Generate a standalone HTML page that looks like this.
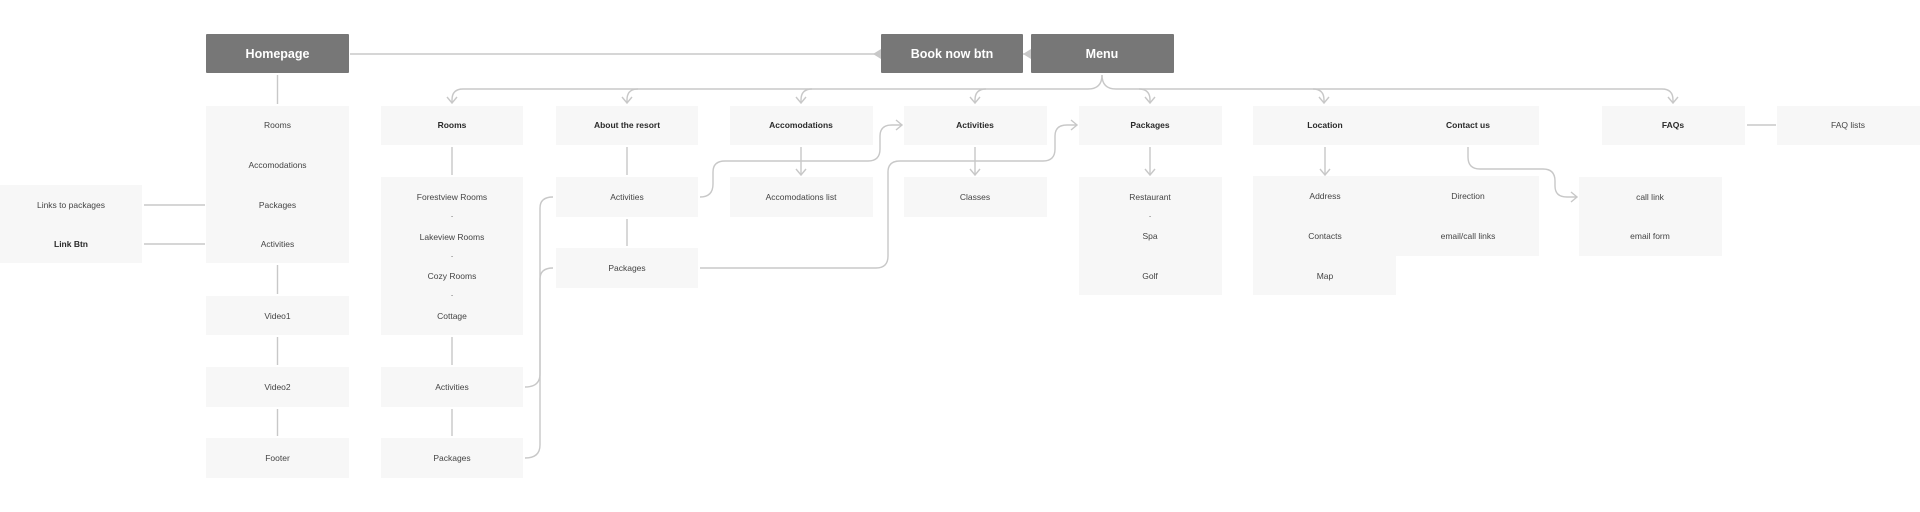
<!DOCTYPE html>
<html><head><meta charset="utf-8"><style>
html,body{margin:0;padding:0;background:#fff;}
svg{display:block}
text{font-family:"Liberation Sans",sans-serif;font-size:8.5px;fill:#444;text-anchor:middle;dominant-baseline:central}
.b{font-weight:bold;fill:#2a2a2a}
.t{font-weight:bold;fill:#fff;font-size:12.5px}
.l{fill:#f7f7f7}
.d{fill:#777}
path,line{stroke:#c8c8c8;stroke-width:1.4;fill:none}
.tri{fill:#c8c8c8;stroke:none}
</style></head><body>
<svg width="1920" height="512" viewBox="0 0 1920 512" xmlns="http://www.w3.org/2000/svg">
<defs>
<marker id="a" markerWidth="12" markerHeight="12" refX="10" refY="6" orient="auto" markerUnits="userSpaceOnUse">
<path d="M4 1 L10 6 L4 11" style="stroke:#c8c8c8;stroke-width:1.4;fill:none"/>
</marker>
</defs>
<!-- dark boxes -->
<rect class="d" x="206" y="34" width="143" height="39" rx="1"/>
<text class="t" x="277.5" y="54">Homepage</text>
<rect class="d" x="881" y="34" width="142" height="39" rx="1"/>
<text class="t" x="952" y="54">Book now btn</text>
<rect class="d" x="1031" y="34" width="143" height="39" rx="1"/>
<text class="t" x="1102" y="54">Menu</text>
<line x1="350" y1="54" x2="875" y2="54"/>
<polygon class="tri" points="881,49 881,59 873,54"/>
<polygon class="tri" points="1031,49 1031,59 1023,54"/>
<line x1="1023" y1="54" x2="1025" y2="54"/>

<!-- Homepage column -->
<line x1="277.5" y1="75" x2="277.5" y2="104"/>
<rect class="l" x="206" y="106" width="143" height="157"/>
<text x="277.5" y="125">Rooms</text>
<text x="277.5" y="165">Accomodations</text>
<text x="277.5" y="205">Packages</text>
<text x="277.5" y="244">Activities</text>
<rect class="l" x="0" y="185" width="142" height="78"/>
<text x="71" y="205">Links to packages</text>
<text class="b" x="71" y="244">Link Btn</text>
<line x1="144" y1="205" x2="205" y2="205"/>
<line x1="144" y1="244" x2="205" y2="244"/>
<line x1="277.5" y1="265" x2="277.5" y2="294"/>
<rect class="l" x="206" y="296" width="143" height="39"/>
<text x="277.5" y="316">Video1</text>
<line x1="277.5" y1="337" x2="277.5" y2="365"/>
<rect class="l" x="206" y="367" width="143" height="40"/>
<text x="277.5" y="387">Video2</text>
<line x1="277.5" y1="409" x2="277.5" y2="436"/>
<rect class="l" x="206" y="438" width="143" height="40"/>
<text x="277.5" y="458">Footer</text>

<!-- Menu bus -->
<path d="M1102 75 Q1102 89 1088 89 L463 89 Q452 89 452 100 L452 103" marker-end="url(#a)"/>
<path d="M1102 75 Q1102 89 1116 89 L1662 89 Q1673 89 1673 100 L1673 103" marker-end="url(#a)"/>
<path d="M638 89 Q627 89 627 100 L627 103" marker-end="url(#a)"/>
<path d="M812 89 Q801 89 801 100 L801 103" marker-end="url(#a)"/>
<path d="M986 89 Q975 89 975 100 L975 103" marker-end="url(#a)"/>
<path d="M1139 89 Q1150 89 1150 100 L1150 103" marker-end="url(#a)"/>
<path d="M1313 89 Q1324 89 1324 100 L1324 103" marker-end="url(#a)"/>

<!-- Rooms column -->
<rect class="l" x="381" y="106" width="142" height="39"/>
<text class="b" x="452" y="125">Rooms</text>
<line x1="452" y1="147" x2="452" y2="175"/>
<rect class="l" x="381" y="177" width="142" height="158"/>
<text x="452" y="197">Forestview Rooms</text>
<text x="452" y="216">·</text>
<text x="452" y="237">Lakeview Rooms</text>
<text x="452" y="256">·</text>
<text x="452" y="276">Cozy Rooms</text>
<text x="452" y="295">·</text>
<text x="452" y="316">Cottage</text>
<line x1="452" y1="337" x2="452" y2="365"/>
<rect class="l" x="381" y="367" width="142" height="40"/>
<text x="452" y="387">Activities</text>
<line x1="452" y1="409" x2="452" y2="436"/>
<rect class="l" x="381" y="438" width="142" height="40"/>
<text x="452" y="458">Packages</text>
<path d="M525 387 Q540 387 540 374 L540 208 Q540 197 553 197"/>
<path d="M525 458 Q540 458 540 445 L540 279 Q540 268 553 268"/>

<!-- About column -->
<rect class="l" x="556" y="106" width="142" height="39"/>
<text class="b" x="627" y="125">About the resort</text>
<line x1="627" y1="147" x2="627" y2="175"/>
<rect class="l" x="556" y="177" width="142" height="40"/>
<text x="627" y="197">Activities</text>
<line x1="627" y1="219" x2="627" y2="246"/>
<rect class="l" x="556" y="248" width="142" height="40"/>
<text x="627" y="268">Packages</text>
<path d="M700 197 Q713 197 713 184 L713 172 Q713 161 725 161 L868 161 Q880 161 880 149 L880 136 Q880 125 892 125 L902 125" marker-end="url(#a)"/>
<path d="M700 268 L876 268 Q888 268 888 256 L888 172 Q888 161 900 161 L1043 161 Q1055 161 1055 149 L1055 136 Q1055 125 1067 125 L1077 125" marker-end="url(#a)"/>

<!-- Accomodations -->
<rect class="l" x="730" y="106" width="143" height="39"/>
<text class="b" x="801" y="125">Accomodations</text>
<line x1="801" y1="147" x2="801" y2="175" marker-end="url(#a)"/>
<rect class="l" x="730" y="177" width="143" height="40"/>
<text x="801" y="197">Accomodations list</text>

<!-- Activities -->
<rect class="l" x="904" y="106" width="143" height="39"/>
<text class="b" x="975" y="125">Activities</text>
<line x1="975" y1="147" x2="975" y2="175" marker-end="url(#a)"/>
<rect class="l" x="904" y="177" width="143" height="40"/>
<text x="975" y="197">Classes</text>

<!-- Packages -->
<rect class="l" x="1079" y="106" width="143" height="39"/>
<text class="b" x="1150" y="125">Packages</text>
<line x1="1150" y1="147" x2="1150" y2="175" marker-end="url(#a)"/>
<rect class="l" x="1079" y="177" width="143" height="118"/>
<text x="1150" y="197">Restaurant</text>
<text x="1150" y="216">·</text>
<text x="1150" y="236">Spa</text>
<text x="1150" y="276">Golf</text>

<!-- Location / Contact -->
<rect class="l" x="1253" y="106" width="286" height="39"/>
<text class="b" x="1325" y="125">Location</text>
<text class="b" x="1468" y="125">Contact us</text>
<line x1="1325" y1="147" x2="1325" y2="175" marker-end="url(#a)"/>
<rect class="l" x="1253" y="176" width="143" height="119"/>
<rect class="l" x="1396" y="176" width="143" height="80"/>
<text x="1325" y="196">Address</text>
<text x="1325" y="236">Contacts</text>
<text x="1325" y="276">Map</text>
<text x="1468" y="196">Direction</text>
<text x="1468" y="236">email/call links</text>
<path d="M1468 147 L1468 157 Q1468 169 1480 169 L1543 169 Q1555 169 1555 181 L1555 186 Q1555 197 1567 197 L1577 197" marker-end="url(#a)"/>
<rect class="l" x="1579" y="177" width="143" height="79"/>
<text x="1650" y="197">call link</text>
<text x="1650" y="236">email form</text>

<!-- FAQs -->
<rect class="l" x="1602" y="106" width="143" height="39"/>
<text class="b" x="1673" y="125">FAQs</text>
<line x1="1747" y1="125" x2="1776" y2="125"/>
<rect class="l" x="1777" y="106" width="143" height="39"/>
<text x="1848" y="125">FAQ lists</text>
</svg>
</body></html>
